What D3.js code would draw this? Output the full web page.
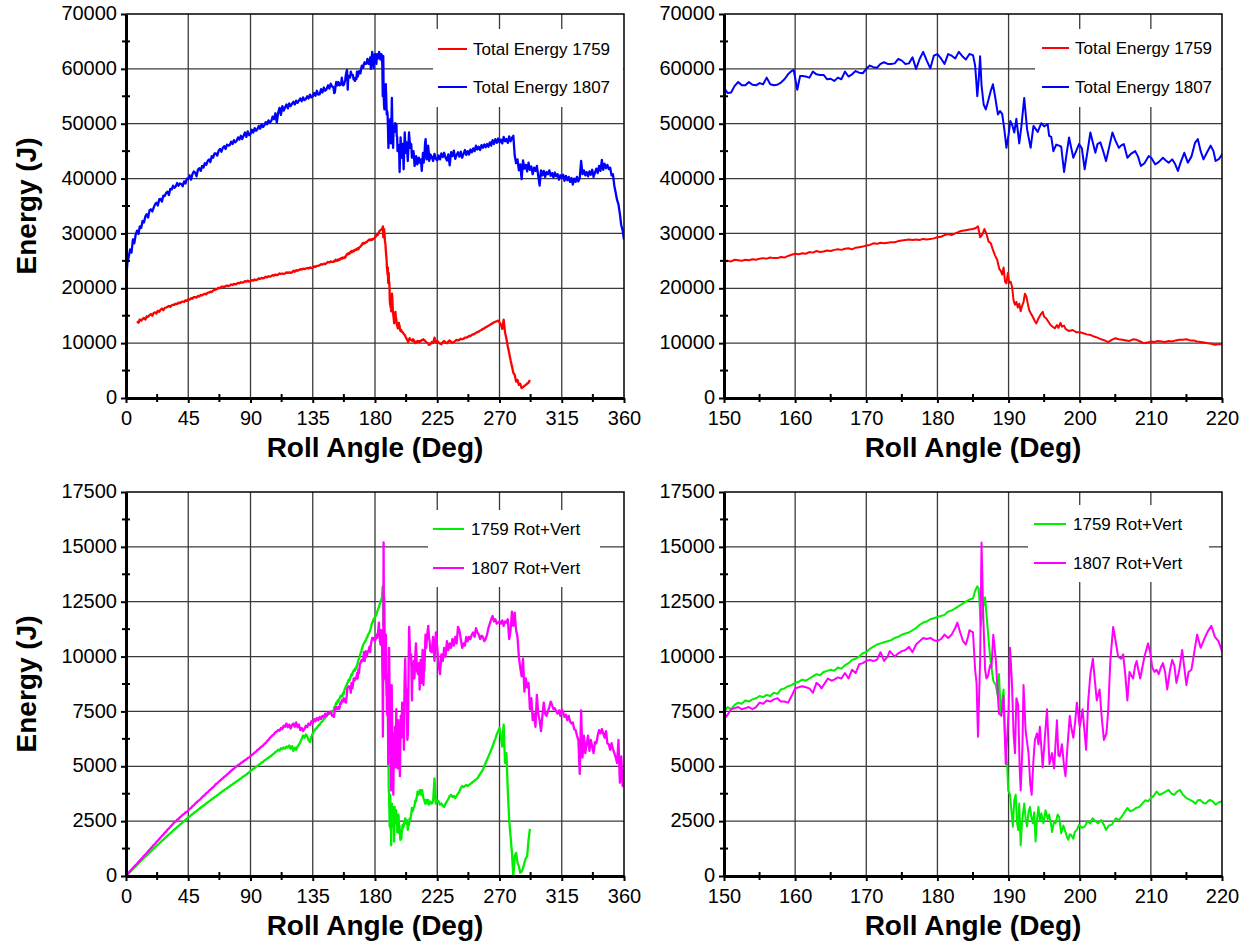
<!DOCTYPE html>
<html>
<head>
<meta charset="utf-8">
<script src="https://cdn.jsdelivr.net/npm/d3@7"></script>
<style>
  html, body { margin: 0; padding: 0; background: #fff; }
  svg { display: block; font-family: Arial, "Liberation Sans", Helvetica, sans-serif; }
</style>
</head>
<body>
<svg id="chart" width="1252" height="945"></svg>
<script>
// ---------------------------------------------------------------
// Energy vs. roll angle for runs 1759 and 1807 (values in joules)
// Coarse samples are taken every 1 degree starting at the given angle;
// the 150-220 degree window is sampled more finely as [angle, energy].
// ---------------------------------------------------------------

// Axis ticks
const wideAngleTicks = [0, 45, 90, 135, 180, 225, 270, 315, 360];
const wideAngleMinor = [22.5, 67.5, 112.5, 157.5, 202.5, 247.5, 292.5, 337.5];
const zoomAngleTicks = [150, 160, 170, 180, 190, 200, 210, 220];
const zoomAngleMinor = [155, 165, 175, 185, 195, 205, 215];
const totalEnergyTicks = [0, 10000, 20000, 30000, 40000, 50000, 60000, 70000];
const totalEnergyMinor = [5000, 15000, 25000, 35000, 45000, 55000, 65000];
const rotVertTicks = [0, 2500, 5000, 7500, 10000, 12500, 15000, 17500];
const rotVertMinor = [1250, 3750, 6250, 8750, 11250, 13750, 16250];

// Total energy, run 1807 -- 0..149 deg
const total1807Start = 0;
const total1807Early = [
  21300,24600,25800,27100,26500,28900,28200,29800,30500,29900,
  31300,31000,32300,32000,33100,33500,32900,34200,34400,34000,
  34700,35300,35600,35100,36200,36300,35800,36900,36800,37400,
  37600,37000,38100,38000,38700,38300,38600,39200,38700,39100,
  39000,38600,39500,39100,40000,39900,40600,39800,40800,41300,
  41100,40400,41600,41900,41400,42300,42000,42800,42500,43200,
  43500,43000,44100,43800,44600,44600,44200,45100,45400,44900,
  45600,45900,45400,46200,46000,46100,46700,46300,47000,46600,
  46900,47500,47100,47800,47200,47800,48400,47600,48600,47900,
  48100,48900,48400,49200,48700,49000,49600,49100,49900,49400,
  49700,50300,49900,50600,50200,50500,51300,50800,51900,50200,
  52000,52900,51600,53200,52400,53000,53500,52800,53700,53200,
  53600,54000,53500,54200,53800,54200,54600,54100,54800,54300,
  54500,55000,54600,55300,54800,55000,55600,55100,56000,55300,
  55400,56300,55700,56600,56000,56300,57000,56400,57300,56800
];
// Total energy, run 1807 -- 150..220 deg
const total1807Zoom = [
  [150,56600],[150.5,55600],[151,55700],[151.5,56900],[152,57600],[152.5,57000],[153,57000],[153.5,57600],
  [154,57100],[154.5,57000],[155,57400],[155.5,57200],[156,58400],[156.5,57200],[157,57000],[157.5,57100],
  [158,57500],[158.5,58100],[159,59000],[159.5,59600],[159.8,59800],[160.3,56200],[160.7,58700],[161,58700],
  [161.5,58600],[162,58400],[162.5,59500],[163,59000],[163.5,58900],[164,58900],[164.5,58100],[165,58200],
  [165.5,57800],[166,58400],[166.5,58100],[167,59500],[167.5,58600],[168,59000],[168.5,59600],[169,59300],
  [169.5,59200],[170,60000],[170.5,60600],[171,60300],[171.5,60200],[172,60900],[172.5,61200],[173,60900],
  [173.5,60900],[174,61000],[174.5,61800],[175,61500],[175.5,60900],[176,61000],[176.5,62100],[177,60000],
  [177.5,61800],[178,63100],[178.5,61500],[179,60100],[179.5,62400],[180,62700],[180.5,61900],[181,60900],
  [181.5,62700],[182,62400],[182.5,61900],[183,63100],[183.5,62300],[184,61700],[184.5,62700],[185,62500],
  [185.3,60600],[185.45,58000],[185.6,55000],[185.8,58000],[186.0,62300],[186.2,57000],[186.5,53500],
  [186.8,52600],[187.1,54000],[187.5,56000],[187.8,57200],[188.1,55000],[188.5,51700],[188.8,52300],
  [189.1,51800],[189.4,49000],[189.7,45600],[190.0,48000],[190.25,50500],[190.5,49800],[190.8,48400],
  [191.1,50900],[191.5,46400],[191.8,49500],[192.2,54700],[192.6,49000],[193.1,45600],[193.5,49600],
  [194.1,48500],[194.6,50100],[195.0,49500],[195.5,49900],[195.7,47800],[196.0,47600],[196.3,45000],
  [196.7,46200],[197.1,46000],[197.4,45800],[197.8,41200],[198.1,44000],[198.5,47500],[199.1,43800],
  [199.5,45000],[199.9,46300],[200.3,45500],[200.7,41700],[201.1,45000],[201.5,48400],[201.8,46800],
  [202.2,44700],[202.5,46300],[202.9,46600],[203.3,45000],[203.7,43200],[204.1,45500],[204.6,48400],
  [205.0,47000],[205.5,45600],[205.8,46000],[206.2,46300],[206.7,43800],[207.2,44500],[207.8,45000],
  [208.2,44000],[208.6,42300],[209.1,42800],[209.7,44100],[210.1,43700],[210.6,42600],[211.1,43000],
  [211.7,43800],[212.1,43300],[212.5,42900],[213.0,43500],[213.4,42700],[213.8,41400],[214.2,43000],
  [214.7,44700],[215.2,42900],[215.7,44000],[216.2,46500],[216.6,47200],[217.0,45000],[217.4,43500],
  [217.9,44800],[218.4,46000],[218.8,45000],[219.1,43200],[219.6,43600],[220,44400]
];
// Total energy, run 1807 -- 221..360 deg
const total1807LateStart = 221;
const total1807Late = [
  44000,43200,44500,43600,43300,44200,43500,44600,43900,44700,
  43800,43300,44400,42400,44800,44100,45100,43600,44300,44800,
  44000,44900,43800,44500,45200,44300,45000,44400,45300,44800,
  45500,45000,46000,45300,45800,45200,46100,45600,46200,45700,
  46300,45800,46600,46000,47000,46300,47200,46500,47300,46600,
  47100,46400,47600,46800,47200,46500,47700,46800,47400,47800,
  44200,42800,43500,41500,42600,39900,43300,41800,42500,41300,
  42900,41600,42200,40800,42000,41400,42300,40500,38700,41500,
  40600,41400,40300,41200,40800,41500,40500,41000,40200,41100,
  40400,40800,39800,40600,40100,40700,39600,40500,39700,40300,
  39400,40100,38900,40000,39400,40300,39500,40100,43200,40800,
  41500,40600,41200,40400,41300,40700,41600,40300,41100,41800,
  41000,42300,41400,43400,41600,42700,41900,42500,41700,42000,
  40600,40800,38700,37400,36100,35300,33600,31500,30600,28900
];

// Total energy, run 1759 -- 8..149 deg
const total1759Start = 8;
const total1759Early = [
  14000,13700,
  14300,14100,14400,14600,14300,14900,14800,15100,15300,15000,
  15500,15600,15400,15900,15700,16100,16300,16000,16400,16500,
  16600,16800,16600,16900,17000,17000,17200,17100,17400,17300,
  17500,17600,17500,17800,17700,18000,17900,18200,18100,18400,
  18400,18300,18600,18500,18800,18700,18900,19000,18900,19200,
  19200,19400,19300,19600,19700,19800,19900,20100,20000,20300,
  20300,20200,20400,20500,20400,20500,20700,20600,20800,20700,
  20800,21000,20900,21100,21000,21100,21300,21200,21400,21200,
  21300,21500,21400,21600,21500,21600,21800,21700,21900,21800,
  21900,22100,22000,22200,22100,22200,22400,22300,22500,22400,
  22500,22700,22600,22700,22600,22700,22900,22800,22900,22800,
  22900,23200,23000,23300,23200,23300,23500,23400,23600,23500,
  23600,23700,23600,23800,23700,23700,24000,23900,24100,24100,
  24200,24400,24300,24500,24400,24600,24800,24700,24900,24800
];
// Total energy, run 1759 -- 150..220 deg
const total1759Zoom = [
  [150,24800],[150.5,25000],[151,24900],[151.5,25200],[152,25100],[152.5,25000],[153,25200],[153.5,25100],
  [154,25300],[154.5,25200],[155,25400],[155.5,25500],[156,25400],[156.5,25600],[157,25500],[157.5,25500],
  [158,25700],[158.5,25600],[159,25900],[159.5,26100],[160,26300],[160.5,26200],[161,26400],[161.5,26300],
  [162,26600],[162.5,26500],[163,26800],[163.5,26600],[164,26700],[164.5,26900],[165,26800],[165.5,27000],
  [166,27100],[166.5,27000],[167,27200],[167.5,27300],[168,27100],[168.5,27400],[169,27500],[169.5,27600],
  [170,27800],[170.5,27900],[171,28200],[171.5,28100],[172,28300],[172.5,28200],[173,28300],[173.5,28400],
  [174,28400],[174.5,28600],[175,28700],[175.5,28800],[176,28900],[176.5,28800],[177,28900],[177.5,28800],
  [178,29000],[178.5,28900],[179,29000],[179.5,29100],[180,29300],[180.5,29400],[181,29700],[181.5,29900],
  [182,29700],[182.5,30000],[183,30300],[183.5,30500],[184,30600],[184.5,30700],[185,30800],[185.4,31000],
  [185.7,31300],[186.0,29300],[186.3,29800],[186.6,30800],[186.9,29900],[187.2,28500],[187.5,28200],
  [187.8,27000],[188.1,26000],[188.4,25200],[188.7,23500],[188.9,23200],[189.1,22500],[189.3,23800],
  [189.5,21200],[189.7,20900],[189.9,22800],[190.1,21000],[190.3,21200],[190.5,20200],[190.7,17800],
  [190.9,17000],[191.1,17500],[191.3,16500],[191.5,17200],[191.7,15800],[191.9,16800],[192.1,17500],
  [192.3,19000],[192.5,18500],[192.7,17200],[192.9,16000],[193.1,15500],[193.4,14800],[193.7,14000],
  [193.9,13600],[194.2,14500],[194.5,15200],[194.8,15700],[195.0,14800],[195.3,14500],[195.6,13900],
  [195.9,13300],[196.2,13000],[196.5,12700],[196.8,13300],[197.0,12800],[197.3,13700],[197.5,13000],
  [197.8,13200],[198.0,12600],[198.5,12200],[199.0,12400],[199.5,12000],[200,12000],[200.5,11800],
  [201,11600],[201.5,11500],[202,11200],[202.5,11000],[203,10700],[203.5,10500],[204,10200],[204.5,10600],
  [205,10900],[205.5,10700],[206,10600],[206.5,10500],[207,10400],[207.5,10700],[208,10600],[208.5,10300],
  [209,10000],[209.5,10100],[210,10300],[210.5,10200],[211,10400],[211.5,10300],[212,10200],[212.5,10400],
  [213,10300],[213.5,10500],[214,10600],[214.5,10600],[215,10700],[215.5,10500],[216,10500],[216.5,10300],
  [217,10200],[217.5,10100],[218,10000],[218.5,9900],[219,9700],[219.5,9800],[220,9800]
];
// Total energy, run 1759 -- 221..292 deg
const total1759LateStart = 221;
const total1759Late = [
  10200,10000,11000,10200,10400,10100,9900,9800,10200,10400,
  10100,10000,10300,10500,10200,10100,10200,10400,10600,10500,
  10600,10800,10700,10800,11000,11000,11100,11300,11300,11500,
  11600,11700,11900,12000,12100,12300,12400,12600,12700,12900,
  13000,13200,13300,13500,13600,13800,13900,14000,14100,13800,
  13400,12600,14300,12000,10800,9400,8200,6900,5800,4600,
  4200,3000,3300,2400,2600,1800,2000,2200,2400,2600,
  2800,3300
];

// Rotational + vertical energy, run 1759 -- 0..149 deg
const rotVert1759Start = 0;
const rotVert1759Early = [
  0,60,130,190,250,320,380,440,510,570,
  640,690,760,820,880,940,1000,1070,1120,1190,
  1250,1300,1370,1420,1490,1540,1600,1660,1720,1770,
  1840,1890,1950,2000,2070,2120,2170,2230,2280,2340,
  2390,2450,2500,2560,2610,2660,2710,2770,2810,2870,
  2920,2960,3020,3060,3120,3160,3210,3250,3310,3350,
  3400,3440,3500,3540,3590,3630,3680,3720,3780,3820,
  3870,3910,3960,4000,4050,4090,4140,4170,4230,4260,
  4320,4350,4410,4440,4500,4540,4580,4620,4680,4720,
  4800,4830,4890,4920,4980,5020,5070,5110,5170,5200,
  5260,5300,5350,5390,5440,5480,5540,5580,5650,5680,
  5760,5720,5820,5780,5860,5800,5900,5850,5950,5800,
  5920,5700,5850,5750,5900,5980,6100,6250,6400,6300,
  6450,6350,6200,6100,6350,6500,6600,6700,6750,6850,
  6900,7000,7050,7150,7200,7300,7350,7400,7450,7500
];
// Rotational + vertical energy, run 1759 -- 150..220 deg
const rotVert1759Zoom = [
  [150,7500],[150.5,7700],[151,7600],[151.5,7800],[152,7900],[152.5,7850],[153,8000],[153.5,7950],
  [154,8050],[154.5,8100],[155,8200],[155.5,8150],[156,8250],[156.5,8200],[157,8350],[157.5,8300],
  [158,8500],[158.5,8550],[159,8650],[159.5,8700],[160,8800],[160.5,8850],[161,8950],[161.5,8900],
  [162,9000],[162.5,9100],[163,9200],[163.5,9150],[164,9300],[164.5,9350],[165,9400],[165.5,9350],
  [166,9500],[166.5,9450],[167,9600],[167.5,9700],[168,9850],[168.5,9900],[169,10000],[169.5,10150],
  [170,10200],[170.5,10350],[171,10450],[171.5,10550],[172,10600],[172.5,10650],[173,10700],[173.5,10750],
  [174,10850],[174.5,10900],[175,11000],[175.5,11050],[176,11100],[176.5,11200],[177,11300],[177.5,11450],
  [178,11550],[178.5,11600],[179,11700],[179.5,11750],[180,11800],[180.5,11850],[181,11900],[181.5,12050],
  [182,12100],[182.5,12200],[183,12300],[183.5,12400],[184,12500],[184.5,12600],[185,12650],[185.3,13000],
  [185.6,13200],[185.8,13100],[186.1,11400],[186.4,12200],[186.7,12700],[187.0,11500],[187.4,10000],
  [187.6,9500],[187.85,8900],[188.2,8700],[188.5,8200],[188.65,9200],[188.9,7400],[189.1,8000],
  [189.3,8500],[189.5,6100],[189.8,5100],[189.95,3900],[190.2,3700],[190.4,3000],[190.6,2250],
  [190.8,3450],[191.0,3700],[191.2,2400],[191.35,2100],[191.5,3300],[191.7,1400],[191.9,2500],
  [192.2,3300],[192.4,2600],[192.6,2250],[192.8,2900],[193.0,3150],[193.2,2700],[193.4,2400],
  [193.6,2900],[193.8,1570],[194.0,2600],[194.2,3150],[194.4,2500],[194.6,2850],[194.9,2400],
  [195.2,3000],[195.5,2600],[195.7,2800],[196.0,2300],[196.1,2000],[196.4,2500],[196.6,2400],
  [196.9,2800],[197.1,2700],[197.4,1950],[197.7,2300],[197.9,2100],[198.2,1800],[198.4,1650],
  [198.6,1900],[198.8,1870],[199.1,1700],[199.3,2000],[199.6,2100],[199.9,2330],[200.3,2200],
  [200.7,2250],[201.1,2500],[201.5,2400],[201.8,2630],[202.2,2500],[202.6,2400],[203.0,2550],
  [203.4,2330],[203.7,2100],[204.1,2300],[204.5,2330],[204.8,2500],[205.1,2630],[205.5,2550],
  [205.9,2700],[206.3,2900],[206.7,3100],[207.1,2950],[207.5,3000],[207.9,3100],[208.4,3150],
  [208.8,3300],[209.2,3450],[209.6,3400],[210.0,3550],[210.4,3650],[210.8,3850],[211.2,3700],
  [211.7,3770],[212.1,3850],[212.5,3920],[212.9,3750],[213.3,3700],[213.7,3850],[214.1,3920],
  [214.5,3700],[215.0,3550],[215.5,3470],[215.9,3400],[216.3,3300],[216.6,3450],[216.9,3470],
  [217.3,3350],[217.7,3300],[218.0,3400],[218.3,3470],[218.7,3400],[219.1,3250],[219.5,3350],[220,3400]
];
// Rotational + vertical energy, run 1759 -- 221..292 deg
const rotVert1759LateStart = 221;
const rotVert1759Late = [
  3300,3400,4450,3300,3450,3400,3250,3300,3200,3150,
  3300,3400,3500,3650,3700,3600,3650,3550,3650,3750,
  3850,4000,4100,4050,4100,4150,4100,4150,4200,4250,
  4300,4350,4400,4450,4550,4650,4750,4850,5000,5150,
  5300,5450,5600,5750,5900,6100,6250,6450,6600,6750,
  6350,5900,6900,5150,5600,3900,2550,1800,1050,0,
  900,1050,600,450,150,200,350,600,800,900,
  1650,2150
];

// Rotational + vertical energy, run 1807 -- 0..149 deg
const rotVert1807Start = 0;
const rotVert1807Early = [
  0,80,150,230,290,360,430,500,560,640,
  700,780,840,920,980,1050,1130,1190,1270,1330,
  1410,1460,1550,1610,1680,1750,1830,1880,1970,2020,
  2110,2160,2240,2300,2380,2450,2480,2560,2600,2680,
  2720,2790,2830,2900,2920,2980,3060,3100,3180,3220,
  3300,3350,3410,3460,3520,3590,3650,3690,3770,3810,
  3890,3930,4000,4050,4110,4190,4230,4300,4340,4410,
  4450,4520,4560,4630,4670,4740,4790,4850,4890,4960,
  5000,5060,5080,5150,5180,5230,5280,5310,5380,5400,
  5460,5520,5560,5630,5660,5740,5780,5850,5900,5940,
  6020,6060,6150,6200,6290,6350,6420,6460,6550,6580,
  6660,6620,6750,6700,6850,6800,6950,6780,6900,6720,
  6880,6950,6800,7000,6780,6900,6650,6750,6600,6700,
  6850,6780,6950,6880,7050,6950,7150,7050,7200,7100,
  7250,7150,7300,7250,7400,7300,7450,7400,7500,7300
];
// Rotational + vertical energy, run 1807 -- 150..220 deg
const rotVert1807Zoom = [
  [150,7350],[150.3,7250],[150.7,7450],[151,7600],[151.5,7650],[152,7700],[152.5,7600],[153,7650],
  [153.5,7700],[154,7600],[154.5,7700],[155,7900],[155.5,7850],[156,8000],[156.5,7950],[157,8050],
  [157.5,8100],[158,7950],[158.5,7950],[159,7900],[159.5,8200],[160,8550],[160.5,8600],[161,8650],
  [161.5,8600],[162,8550],[162.5,8350],[163,8800],[163.4,8700],[163.7,8550],[164.2,8800],[164.6,9000],
  [165.1,8900],[165.5,8950],[166,9050],[166.5,9000],[167,9250],[167.5,9000],[168,9400],[168.5,9250],
  [169,9650],[169.5,9700],[170,9800],[170.5,9850],[171,9800],[171.5,9850],[172,10200],[172.5,9800],
  [173,10000],[173.3,10250],[173.7,10100],[174,10000],[174.5,10150],[175,10250],[175.5,10300],[176,10450],
  [176.5,10200],[177,10550],[177.5,10700],[178,10850],[178.5,10800],[179,10850],[179.5,10750],[180,10700],
  [180.5,10800],[181,11000],[181.5,10850],[182,11000],[182.5,11300],[182.8,11550],[183.2,11100],
  [183.6,10700],[184,10550],[184.3,10900],[184.5,11200],[185,11100],[185.3,9400],[185.5,8800],
  [185.7,6350],[186.0,9800],[186.2,15200],[186.45,11800],[186.7,9400],[186.9,9000],[187.1,9100],
  [187.4,9600],[187.6,9500],[187.85,11000],[188.2,9900],[188.45,8500],[188.65,7400],[189.0,7300],
  [189.3,8200],[189.6,5100],[190.0,7500],[190.2,10400],[190.45,9000],[190.7,6500],[190.9,5600],
  [191.1,8100],[191.35,7800],[191.55,5000],[191.7,3900],[191.95,5900],[192.1,8700],[192.4,6600],
  [192.8,5600],[193.05,4200],[193.25,3700],[193.5,5300],[193.7,6200],[194.0,6500],[194.2,6000],
  [194.4,6800],[194.8,4950],[195.1,6300],[195.4,7600],[195.75,5100],[196.1,5600],[196.4,4900],
  [196.8,7100],[197.0,5500],[197.2,5450],[197.5,6000],[197.8,5000],[198.0,4550],[198.3,6000],
  [198.6,7300],[198.8,6800],[199.1,6300],[199.35,7000],[199.6,7900],[200.0,6800],[200.4,7600],
  [200.9,5750],[201.2,8000],[201.5,9200],[201.85,9900],[202.1,9000],[202.4,8000],[202.8,8500],
  [203.1,7200],[203.4,6200],[203.75,6500],[204.0,7500],[204.3,9800],[204.7,11350],[205.0,10800],
  [205.4,10000],[205.8,9900],[206.1,10100],[206.4,9200],[206.7,8000],[207.0,9300],[207.3,9100],
  [207.5,9000],[207.8,9600],[208.0,9800],[208.3,9300],[208.5,9000],[208.8,9500],[209.1,10000],
  [209.6,10600],[209.9,10200],[210.2,9500],[210.5,9300],[210.8,9400],[211.1,9200],[211.4,9500],
  [211.7,9700],[212.0,9300],[212.3,8500],[212.7,9400],[213.0,9850],[213.3,9600],[213.6,8800],
  [214.0,9400],[214.4,10300],[214.7,9500],[215.0,8700],[215.3,9300],[215.7,9400],[216.0,10000],
  [216.5,11000],[217.0,10400],[217.5,10800],[218.0,11150],[218.5,11400],[219.0,10900],[219.5,10700],
  [220,10250]
];
// Rotational + vertical energy, run 1807 -- 221..360 deg
const rotVert1807LateStart = 221;
const rotVert1807Late = [
  10200,10900,9800,11100,10400,9600,9200,10100,9800,10400,
  10000,10700,10300,10600,10400,10800,10500,10900,10600,11350,
  11200,10800,10400,10600,10500,10900,10700,10900,10800,11000,
  11100,10900,11300,11100,11000,10800,10950,10900,10700,10800,
  11000,11300,11500,11700,11850,11600,11700,11500,11550,11600,
  11500,11650,11400,11600,11550,11700,10800,11200,12050,11400,
  12000,11200,10900,10000,9500,9100,9900,8400,9000,8600,
  8800,7600,8100,7100,7400,6800,8250,7400,7100,6600,
  7300,7900,7400,7300,7500,7700,7950,7800,7600,7650,
  7500,7400,7550,7300,7600,7450,7250,7350,7100,7300,
  7050,6950,7000,6700,6650,6400,6200,4650,7550,5400,
  6400,5600,6000,6400,5700,6200,5900,5600,6100,6050,
  6400,6650,6500,6700,6500,6300,6600,6050,6000,5750,
  6050,5800,5600,5400,5150,6200,4250,5450,4100,4850
];

// ---------------------------------------------------------------
// Assemble each curve as [angle, energy] points
// ---------------------------------------------------------------
function onGrid(start, values) {
  return values.map((v, i) => [start + i, v]);
}

const total1759 = [...onGrid(total1759Start, total1759Early), ...total1759Zoom,
                   ...onGrid(total1759LateStart, total1759Late)];
const total1807 = [...onGrid(total1807Start, total1807Early), ...total1807Zoom,
                   ...onGrid(total1807LateStart, total1807Late)];
const rotVert1759 = [...onGrid(rotVert1759Start, rotVert1759Early), ...rotVert1759Zoom,
                     ...onGrid(rotVert1759LateStart, rotVert1759Late)];
const rotVert1807 = [...onGrid(rotVert1807Start, rotVert1807Early), ...rotVert1807Zoom,
                     ...onGrid(rotVert1807LateStart, rotVert1807Late)];

const totalSeries = [
  { name: "Total Energy 1759", data: total1759, color: "#ff0000" },
  { name: "Total Energy 1807", data: total1807, color: "#0000ff" }
];
const rotVertSeries = [
  { name: "1759 Rot+Vert", data: rotVert1759, color: "#00ee00" },
  { name: "1807 Rot+Vert", data: rotVert1807, color: "#ff00ff" }
];

// ---------------------------------------------------------------
// Panel layout
// ---------------------------------------------------------------
const FONT = 'Arial, "Liberation Sans", Helvetica, sans-serif';
const TICK_FONT = 20;

const panels = [
  { box: { left: 126, top: 14, right: 624, bottom: 398 },
    xDomain: [0, 360], xTicks: wideAngleTicks, xMinor: wideAngleMinor,
    yDomain: [0, 70000], yTicks: totalEnergyTicks, yMinor: totalEnergyMinor,
    series: totalSeries, yTitle: true, lineWidth: 2.3,
    legend: { x: 433, y: 29, w: 190, h: 78, rows: [49, 87], sx0: 438, sx1: 467, tx: 473 } },
  { box: { left: 724, top: 14, right: 1222, bottom: 398 },
    xDomain: [150, 220], xTicks: zoomAngleTicks, xMinor: zoomAngleMinor,
    yDomain: [0, 70000], yTicks: totalEnergyTicks, yMinor: totalEnergyMinor,
    series: totalSeries, yTitle: false, lineWidth: 2,
    legend: { x: 1035, y: 29, w: 186, h: 78, rows: [48, 87], sx0: 1042, sx1: 1069, tx: 1075 } },
  { box: { left: 126, top: 492, right: 624, bottom: 876 },
    xDomain: [0, 360], xTicks: wideAngleTicks, xMinor: wideAngleMinor,
    yDomain: [0, 17500], yTicks: rotVertTicks, yMinor: rotVertMinor,
    series: rotVertSeries, yTitle: true, lineWidth: 2.3,
    legend: { x: 428, y: 510, w: 172, h: 77, rows: [529, 568], sx0: 433, sx1: 464, tx: 471 } },
  { box: { left: 724, top: 492, right: 1222, bottom: 876 },
    xDomain: [150, 220], xTicks: zoomAngleTicks, xMinor: zoomAngleMinor,
    yDomain: [0, 17500], yTicks: rotVertTicks, yMinor: rotVertMinor,
    series: rotVertSeries, yTitle: false, lineWidth: 2,
    legend: { x: 1028, y: 505, w: 181, h: 77, rows: [524, 563], sx0: 1034, sx1: 1066, tx: 1073 } }
];

const svg = d3.select("#chart");
const defs = svg.append("defs");

panels.forEach((p, i) => {
  const b = p.box;
  const x = d3.scaleLinear().domain(p.xDomain).range([b.left, b.right]);
  const y = d3.scaleLinear().domain(p.yDomain).range([b.bottom, b.top]);
  const g = svg.append("g").attr("class", "panel");

  // Grid
  const grid = g.append("g").attr("stroke", "#3a3a3a").attr("stroke-width", 1.3);
  grid.selectAll("line.vx").data(p.xTicks.slice(1, -1)).join("line")
    .attr("class", "vx")
    .attr("x1", d => x(d)).attr("x2", d => x(d))
    .attr("y1", b.top).attr("y2", b.bottom);
  grid.selectAll("line.hy").data(p.yTicks.slice(1, -1)).join("line")
    .attr("class", "hy")
    .attr("x1", b.left).attr("x2", b.right)
    .attr("y1", d => y(d)).attr("y2", d => y(d));

  // Legend background
  const lg = p.legend;
  g.append("rect")
    .attr("x", lg.x).attr("y", lg.y).attr("width", lg.w).attr("height", lg.h)
    .attr("fill", "#fff");

  // Curves
  const clipId = "plot-clip-" + i;
  defs.append("clipPath").attr("id", clipId)
    .append("rect")
    .attr("x", b.left).attr("y", b.top - 3)
    .attr("width", b.right - b.left).attr("height", b.bottom - b.top + 6);

  const line = d3.line().x(d => x(d[0])).y(d => y(d[1]));
  g.append("g").attr("clip-path", `url(#${clipId})`)
    .selectAll("path").data(p.series).join("path")
    .attr("d", d => line(d.data))
    .attr("fill", "none")
    .attr("stroke", d => d.color)
    .attr("stroke-width", p.lineWidth)
    .attr("stroke-linejoin", "round");

  // Frame (top and right)
  g.append("path")
    .attr("d", `M${b.left},${b.top}H${b.right}V${b.bottom}`)
    .attr("fill", "none").attr("stroke", "#000").attr("stroke-width", 1.5);

  // Axes
  const xAxis = d3.axisBottom(x).tickValues(p.xTicks).tickSize(5).tickSizeOuter(0)
    .tickPadding(8).tickFormat(d3.format("d"));
  const gx = g.append("g").attr("transform", `translate(0,${b.bottom})`).call(xAxis)
    .attr("font-size", TICK_FONT).attr("font-family", FONT);
  gx.select(".domain").attr("stroke-width", 3);
  gx.selectAll(".tick line").attr("stroke-width", 2);
  gx.selectAll(".tick text").attr("fill", "#000");

  const yAxis = d3.axisLeft(y).tickValues(p.yTicks).tickSize(5).tickSizeOuter(0)
    .tickPadding(4).tickFormat(d3.format("d"));
  const gy = g.append("g").attr("transform", `translate(${b.left},0)`).call(yAxis)
    .attr("font-size", TICK_FONT).attr("font-family", FONT);
  gy.select(".domain").attr("stroke-width", 3);
  gy.selectAll(".tick line").attr("stroke-width", 2);
  gy.selectAll(".tick text").attr("fill", "#000").attr("dy", "0.28em");

  // Minor ticks crossing the axes
  g.append("g").selectAll("line").data(p.xMinor).join("line")
    .attr("x1", d => x(d)).attr("x2", d => x(d))
    .attr("y1", b.bottom - 4).attr("y2", b.bottom + 4)
    .attr("stroke", "#000").attr("stroke-width", 2);
  g.append("g").selectAll("line").data(p.yMinor).join("line")
    .attr("x1", b.left - 4).attr("x2", b.left + 4)
    .attr("y1", d => y(d)).attr("y2", d => y(d))
    .attr("stroke", "#000").attr("stroke-width", 2);

  // Axis titles
  g.append("text")
    .attr("x", (b.left + b.right) / 2).attr("y", b.bottom + 59)
    .attr("text-anchor", "middle")
    .attr("font-family", FONT).attr("font-size", 28).attr("font-weight", "bold")
    .text("Roll Angle (Deg)");
  if (p.yTitle) {
    g.append("text")
      .attr("transform", `translate(36,${(b.top + b.bottom) / 2}) rotate(-90)`)
      .attr("text-anchor", "middle")
      .attr("font-family", FONT).attr("font-size", 28).attr("font-weight", "bold")
      .text("Energy (J)");
  }

  // Legend entries
  const entries = g.append("g").selectAll("g").data(p.series).join("g");
  entries.append("line")
    .attr("x1", lg.sx0).attr("x2", lg.sx1)
    .attr("y1", (d, k) => lg.rows[k]).attr("y2", (d, k) => lg.rows[k])
    .attr("stroke", d => d.color).attr("stroke-width", 2);
  entries.append("text")
    .attr("x", lg.tx).attr("y", (d, k) => lg.rows[k] + 6)
    .attr("font-family", FONT).attr("font-size", 17).attr("fill", "#000")
    .text(d => d.name);
});
</script>
</body>
</html>
